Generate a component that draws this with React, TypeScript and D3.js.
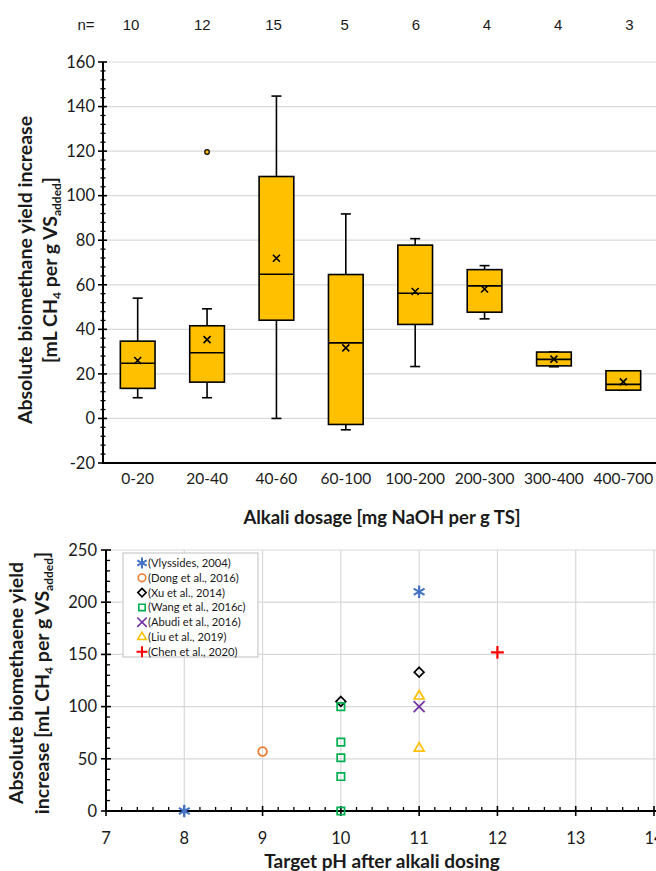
import React from 'react';
import * as d3 from 'd3';

// top panel: box plot per alkali dosage range
const categories = ['0-20', '20-40', '40-60', '60-100', '100-200', '200-300', '300-400', '400-700'];
const counts = [10, 12, 15, 5, 6, 4, 4, 3];
const whiskerLow = [9.3, 9.3, 0, -5.1, 23.3, 44.7, 23.2, 12.7];
const q1 = [13.5, 16.3, 44.1, -2.7, 42.2, 47.7, 23.6, 12.7];
const medians = [24.8, 29.5, 64.7, 33.9, 56.2, 59.5, 26.5, 15.3];
const q3 = [34.7, 41.6, 108.6, 64.6, 77.8, 66.8, 29.8, 21.4];
const whiskerHigh = [54.0, 49.2, 144.7, 91.8, 80.7, 68.6, 29.9, 21.4];
const means = [26.0, 35.4, 71.9, 31.7, 57.0, 58.1, 26.6, 16.4];
const outlierCats = ['20-40'];
const outlierValues = [119.6];
const topTicks = [-20, 0, 20, 40, 60, 80, 100, 120, 140, 160];

// bottom panel: scatter by target pH
const studies = [
  '(Vlyssides, 2004)',
  '(Dong et al., 2016)',
  '(Xu et al., 2014)',
  '(Wang et al., 2016c)',
  '(Abudi et al., 2016)',
  '(Liu et al., 2019)',
  '(Chen et al., 2020)',
];
const studyColors = ['#4472C4', '#ED7D31', '#000000', '#00B050', '#7030A0', '#FFC000', '#FF0000'];
const studyPH = [[8, 11], [9], [10, 11], [10, 10, 10, 10, 10], [11], [11, 11], [12]];
const studyYield = [[0, 210], [57], [105, 133], [100, 66, 51, 33, 0], [100], [110, 60], [152]];
const bottomYTicks = [0, 50, 100, 150, 200, 250];
const bottomXTicks = [7, 8, 9, 10, 11, 12, 13, 14];

const symbolTypes = [
  d3.symbolAsterisk,
  d3.symbolCircle,
  d3.symbolDiamond2,
  d3.symbolSquare2,
  d3.symbolX,
  d3.symbolTriangle2,
  d3.symbolPlus,
];
const symbolSizes = [110, 60, 60, 70, 80, 70, 55];

const FONT = 'Lato, "Open Sans", sans-serif';
const NARROW = '"Liberation Sans Narrow", "Liberation Sans", Arial, sans-serif';
const GRID = '#d9d9d9';
const INK = '#1a1a1a';

const App = () => {
  const width = 656;
  const height = 871;

  // ---- top scales
  const x = d3.scaleBand().domain(categories).range([103, 658]);
  const nx = d3.scaleBand().domain(categories).range([95.5, 665]);
  const y = d3.scaleLinear().domain([-20, 160]).range([463, 62]);
  const bw = x.bandwidth();
  const boxW = bw * 0.5;
  const capW = 10;
  const minorTop = d3.range(-20, 160.01, 4).filter((v) => v % 20 !== 0);

  // ---- bottom scales
  const sx = d3.scaleLinear().domain([7, 14]).range([106, 654]);
  const sy = d3.scaleLinear().domain([0, 250]).range([811, 550]);
  const minorBX = d3.range(7, 14.001, 0.2).filter((v) => Math.abs(v - Math.round(v)) > 0.01);
  const minorBY = d3.range(0, 250.01, 10).filter((v) => v % 50 !== 0);

  const sym = (i: number, k = 1) => d3.symbol().type(symbolTypes[i]).size(symbolSizes[i] * k)() || '';

  const legendX = 123;
  const legendY = 553;
  const legendRow = 14.8;

  return (
    <svg width={width} height={height} style={{ position: 'absolute', left: 0, top: 0 }} fontFamily={FONT}>
      <rect width={width} height={height} fill="#fff" />

      {/* ===== top chart ===== */}
      <text x={86} y={30} fontSize={15} textAnchor="middle" fill={INK} fontFamily={NARROW}>n=</text>
      {counts.map((n, i) => (
        <text key={'n' + i} x={(nx(categories[i]) || 0) + nx.bandwidth() / 2} y={30} fontSize={15}
          textAnchor="middle" fill={INK} fontFamily={NARROW}>{n}</text>
      ))}

      {topTicks.filter((t) => t !== -20).map((t) => (
        <line key={'g' + t} x1={103} x2={658} y1={y(t)} y2={y(t)} stroke={GRID} strokeWidth={1.2} />
      ))}

      {categories.map((c, i) => {
        const cx = (x(c) || 0) + bw / 2;
        return (
          <g key={c} stroke="#000" strokeWidth={1.6}>
            <line x1={cx} x2={cx} y1={y(whiskerHigh[i])} y2={y(q3[i])} />
            <line x1={cx} x2={cx} y1={y(q1[i])} y2={y(whiskerLow[i])} />
            <line x1={cx - capW / 2} x2={cx + capW / 2} y1={y(whiskerHigh[i])} y2={y(whiskerHigh[i])} />
            <line x1={cx - capW / 2} x2={cx + capW / 2} y1={y(whiskerLow[i])} y2={y(whiskerLow[i])} />
            <rect x={cx - boxW / 2} y={y(q3[i])} width={boxW} height={y(q1[i]) - y(q3[i])} fill="#FFC000" />
            <line x1={cx - boxW / 2} x2={cx + boxW / 2} y1={y(medians[i])} y2={y(medians[i])} />
            <path d={`M${cx - 3.5},${y(means[i]) - 3.5}L${cx + 3.5},${y(means[i]) + 3.5}M${cx - 3.5},${y(means[i]) + 3.5}L${cx + 3.5},${y(means[i]) - 3.5}`} />
          </g>
        );
      })}
      {outlierCats.map((c, i) => (
        <circle key={'o' + i} cx={(x(c) || 0) + bw / 2} cy={y(outlierValues[i])} r={2.3} fill="#FFC000" stroke="#000" strokeWidth={1.2} />
      ))}

      {/* top axes */}
      <line x1={103} x2={658} y1={y(-20)} y2={y(-20)} stroke="#000" strokeWidth={2} />
      <line x1={103} x2={103} y1={y(-20) + 1} y2={y(160)} stroke="#000" strokeWidth={2} />
      {topTicks.map((t) => (
        <g key={'yt' + t}>
          <line x1={98} x2={107} y1={y(t)} y2={y(t)} stroke="#000" strokeWidth={1.6} />
          <text x={95} y={y(t)} dy="0.35em" fontSize={16.5} textAnchor="end" fill={INK}>{t}</text>
        </g>
      ))}
      {minorTop.map((t) => (
        <line key={'ym' + t} x1={100.5} x2={105.5} y1={y(t)} y2={y(t)} stroke="#000" strokeWidth={1.3} />
      ))}
      {categories.map((c) => (
        <text key={'xl' + c} x={(x(c) || 0) + bw / 2} y={484} fontSize={15.5} textAnchor="middle" fill={INK}>{c}</text>
      ))}
      <text x={382} y={524} fontSize={18.5} fontWeight="bold" textAnchor="middle" fill={INK}>
        Alkali dosage [mg NaOH per g TS]
      </text>
      <g transform="translate(26,270) rotate(-90)" fill={INK} fontWeight="bold">
        <text x={0} y={6} fontSize={19.5} textAnchor="middle">Absolute biomethane yield increase</text>
        <text x={0} y={31} fontSize={19.5} textAnchor="middle">
          [mL CH<tspan fontSize={12} dy={4}>4</tspan><tspan dy={-4}> per g VS</tspan>
          <tspan fontSize={12} dy={4}>added</tspan><tspan dy={-4}>]</tspan>
        </text>
      </g>

      {/* ===== bottom chart ===== */}
      {bottomYTicks.filter((t) => t !== 0).map((t) => (
        <line key={'bg' + t} x1={106} x2={656} y1={sy(t)} y2={sy(t)} stroke={GRID} strokeWidth={1.2} />
      ))}
      {bottomXTicks.filter((t) => t !== 7).map((t) => (
        <line key={'bgx' + t} x1={sx(t)} x2={sx(t)} y1={sy(0)} y2={sy(250)} stroke={GRID} strokeWidth={1.2} />
      ))}

      <line x1={106} x2={656} y1={sy(0)} y2={sy(0)} stroke="#000" strokeWidth={2} />
      <line x1={106} x2={106} y1={sy(0)} y2={sy(250)} stroke="#000" strokeWidth={2} />
      {bottomYTicks.map((t) => (
        <g key={'byt' + t}>
          <line x1={101} x2={111} y1={sy(t)} y2={sy(t)} stroke="#000" strokeWidth={1.6} />
          <text x={97} y={sy(t)} dy="0.35em" fontSize={16.5} textAnchor="end" fill={INK}>{t}</text>
        </g>
      ))}
      {minorBY.map((t) => (
        <line key={'bym' + t} x1={106} x2={110} y1={sy(t)} y2={sy(t)} stroke="#000" strokeWidth={1.3} />
      ))}
      {bottomXTicks.map((t) => (
        <g key={'bxt' + t}>
          <line x1={sx(t)} x2={sx(t)} y1={sy(0) - 5} y2={sy(0) + 5} stroke="#000" strokeWidth={1.6} />
          <text x={sx(t)} y={844} fontSize={16.5} textAnchor="middle" fill={INK}>{t}</text>
        </g>
      ))}
      {minorBX.map((t) => (
        <line key={'bxm' + t} x1={sx(t)} x2={sx(t)} y1={sy(0) - 4} y2={sy(0)} stroke="#000" strokeWidth={1.3} />
      ))}

      {studies.map((s, i) =>
        studyPH[i].map((ph, j) => (
          <path key={s + j} d={sym(i)} transform={`translate(${sx(ph)},${sy(studyYield[i][j])})`}
            fill="none" stroke={studyColors[i]} strokeWidth={i === 0 || i === 6 ? 2.2 : 1.7} />
        ))
      )}

      <rect x={legendX} y={legendY} width={135} height={104} fill="#fff" stroke="#bfbfbf" strokeWidth={1} />
      {studies.map((s, i) => (
        <g key={'lg' + s} transform={`translate(${legendX + 19},${legendY + 10 + i * legendRow})`}>
          <path d={sym(i, 0.75)} fill="none" stroke={studyColors[i]} strokeWidth={i === 0 || i === 6 ? 2 : 1.6} />
          <text x={6} y={0} dy="0.35em" fontSize={11.2} fill={INK}>{s}</text>
        </g>
      ))}

      <text x={382} y={868} fontSize={19} fontWeight="bold" textAnchor="middle" fill={INK}>
        Target pH after alkali dosing
      </text>
      <g transform="translate(23,683) rotate(-90)" fill={INK} fontWeight="bold">
        <text x={0} y={0} fontSize={19.5} textAnchor="middle">Absolute biomethaene yield</text>
        <text x={0} y={26} fontSize={19.5} textAnchor="middle">
          increase [mL CH<tspan fontSize={12} dy={4}>4</tspan><tspan dy={-4}> per g VS</tspan>
          <tspan fontSize={12} dy={4}>added</tspan><tspan dy={-4}>]</tspan>
        </text>
      </g>
    </svg>
  );
};

export default App;
